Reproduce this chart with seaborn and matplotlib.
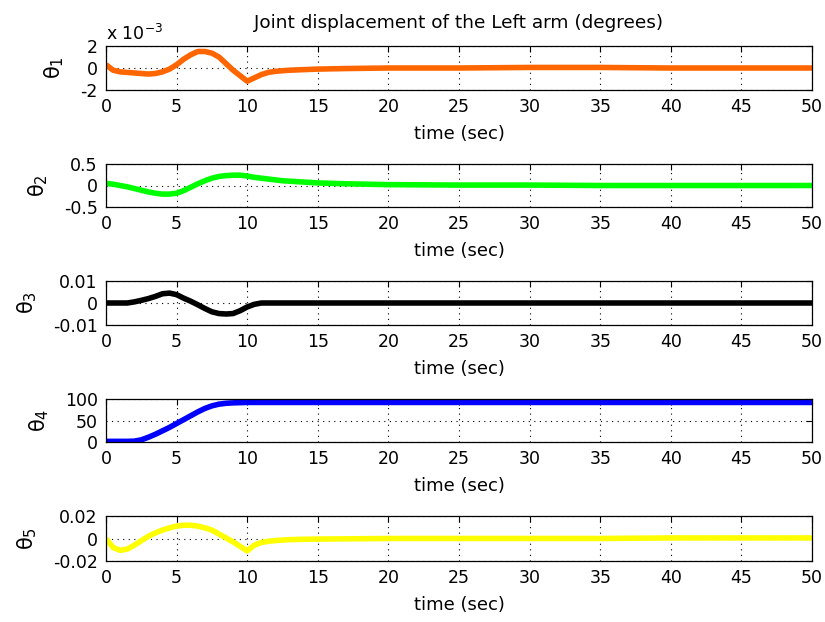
import matplotlib
matplotlib.use('Agg')
import matplotlib.pyplot as plt
import seaborn as sns

# ---- Data ----
time_s = [0, 0.5, 1, 1.5, 2, 2.5, 3, 3.5, 4, 4.5, 5, 5.5, 6, 6.5, 7, 7.5, 8, 8.5,
          9, 9.5, 10, 10.5, 11, 11.5, 12, 12.5, 13, 14, 15, 17, 20, 25, 30, 35, 40, 50]

# theta1 is in units of 1e-3 degrees
theta1 = [0.3, -0.2, -0.35, -0.4, -0.45, -0.5, -0.55, -0.5, -0.35, -0.1, 0.3, 0.8,
          1.2, 1.5, 1.5, 1.35, 1.0, 0.4, -0.2, -0.7, -1.2, -0.9, -0.6, -0.4, -0.3,
          -0.25, -0.2, -0.15, -0.1, -0.05, 0.0, 0.0, 0.05, 0.05, 0.0, 0.0]
theta2 = [0.05, 0.03, 0.0, -0.03, -0.07, -0.11, -0.15, -0.18, -0.2, -0.2, -0.18,
          -0.12, -0.04, 0.04, 0.11, 0.17, 0.21, 0.23, 0.24, 0.24, 0.22, 0.19, 0.17,
          0.15, 0.13, 0.11, 0.10, 0.08, 0.06, 0.04, 0.02, 0.01, 0.01, 0.0, 0.0, 0.0]
theta3 = [0, 0, 0, 0, 0.0005, 0.0012, 0.002, 0.003, 0.0042, 0.0045, 0.0038, 0.0022,
          0.0008, -0.0008, -0.0025, -0.004, -0.0048, -0.005, -0.0048, -0.0035,
          -0.0018, -0.0006, 0, 0, 0, 0, 0, 0, 0, 0, 0, 0, 0, 0, 0, 0]
theta4 = [1.5, 1.5, 1.5, 1.5, 2, 5, 11, 18, 26, 34, 43, 52, 61, 70, 78, 84, 88, 90,
          91, 91.5, 92, 92, 92, 92, 92, 92, 92, 92, 92, 92, 92, 92, 92, 92, 92, 92]
theta5 = [0.0, -0.008, -0.0105, -0.0095, -0.006, -0.002, 0.002, 0.005, 0.0075,
          0.0095, 0.011, 0.0118, 0.0118, 0.011, 0.0095, 0.0075, 0.004, 0.0005,
          -0.003, -0.007, -0.011, -0.006, -0.0035, -0.0025, -0.0018, -0.0014,
          -0.001, -0.0007, -0.0005, -0.0003, 0.0, 0.0, 0.0, 0.0, 0.0005, 0.0005]

series = [theta1, theta2, theta3, theta4, theta5]
colors = ['#ff6600', '#00ff00', '#000000', '#0000ff', '#ffff00']
ylabels = [r'θ$_1$', r'θ$_2$', r'θ$_3$', r'θ$_4$', r'θ$_5$']
yticks = [[-2, 0, 2], [-0.5, 0, 0.5], [-0.01, 0, 0.01], [0, 50, 100], [-0.02, 0, 0.02]]
yticklabels = [['-2', '0', '2'], ['-0.5', '0', '0.5'], ['-0.01', '0', '0.01'],
               ['0', '50', '100'], ['-0.02', '0', '0.02']]
xticks = list(range(0, 55, 5))

sns.set_style('white')
plt.rcParams['font.family'] = ['DejaVu Sans']
plt.rcParams['mathtext.fontset'] = 'dejavusans'
plt.rcParams['text.color'] = 'black'
plt.rcParams['axes.labelcolor'] = 'black'

fig = plt.figure(figsize=(8.25, 6.22), dpi=100)

# panel boxes in pixels (top, bottom) from the reference
boxes = [(46, 90), (164, 207), (281, 325), (399, 442), (516, 561)]
W, H = 825.0, 622.0
left, right = 106, 812

for i, (top, bot) in enumerate(boxes):
    ax = fig.add_axes([left / W, 1 - bot / H, (right - left) / W, (bot - top) / H])
    sns.lineplot(x=time_s, y=series[i], ax=ax, color=colors[i], lw=4, solid_capstyle='butt')
    ax.set_xlim(0, 50)
    ax.set_ylim(yticks[i][0], yticks[i][-1])
    ax.set_xticks(xticks)
    ax.set_xticklabels([str(x) for x in xticks], fontsize=12.5)
    ax.set_yticks(yticks[i])
    ax.set_yticklabels(yticklabels[i], fontsize=12.5)
    ax.tick_params(direction='in', length=4, width=0.8, top=True, right=True,
                   colors='black', labelcolor='black', pad=6)
    ax.grid(True, color='black', linestyle=(0, (1, 4)), lw=0.8)
    for s in ax.spines.values():
        s.set_color('black')
        s.set_linewidth(0.9)
    ax.set_xlabel('time (sec)', fontsize=13, labelpad=6)
    ax.set_ylabel(ylabels[i], fontsize=15, labelpad=10)
    if i == 0:
        ax.set_title('Joint displacement of the Left arm (degrees)', fontsize=13.3,
                     pad=13, color='black')
        ax.text(0.0, 1.04, r'x 10$^{-3}$', transform=ax.transAxes, fontsize=12.5,
                ha='left', va='bottom')

fig.savefig('out.png', dpi=100, facecolor='white')
